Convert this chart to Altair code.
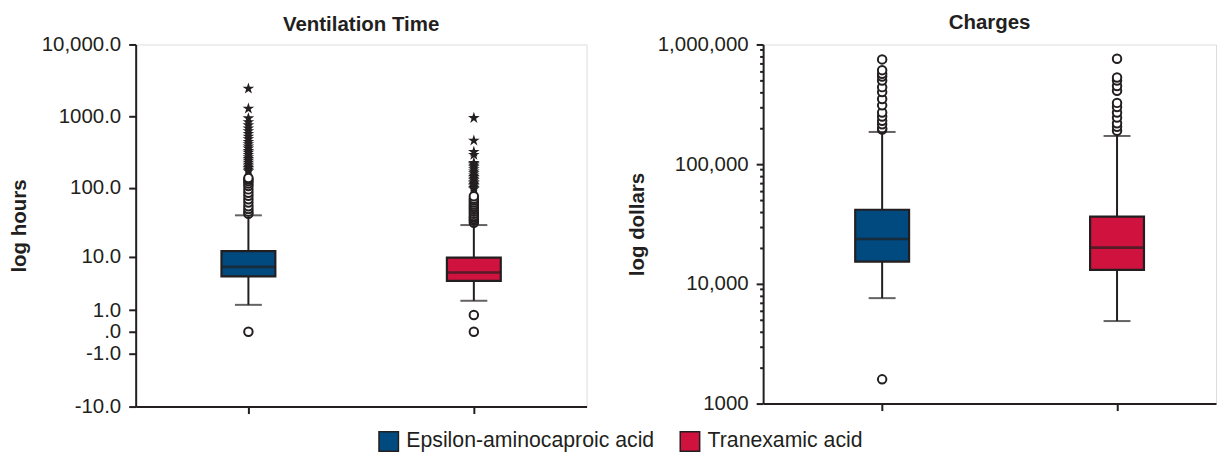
import altair as alt
import pandas as pd

groups = ["Epsilon-aminocaproic acid", "Tranexamic acid"]
colors = ["#004a80", "#cf123e"]
ink = "#231f20"

# ---- Ventilation time (hours) ----
vent_low = [1.37, 1.70]
vent_q1 = [4.9, 4.1]
vent_median = [7.0, 5.7]
vent_q3 = [12.3, 9.8]
vent_high = [40.8, 29.6]
vent_mild_eaca = [0.0, 43, 46, 50, 55, 62, 69, 77, 85, 95, 106, 115, 124, 131, 137]
vent_extreme_eaca = [171, 180, 190, 200, 212, 225, 240, 255, 270, 290, 310, 330, 355, 380,
                     410, 440, 480, 520, 570, 620, 680, 750, 830, 938, 1279, 2426]
vent_mild_txa = [0.0, 0.71, 32, 34, 36, 38, 40, 43, 46, 49, 52, 55, 58, 62, 66, 70, 76]
vent_extreme_txa = [96, 100, 105, 110, 115, 120, 128, 135, 142, 150, 160, 170, 183, 195,
                    205, 215, 224, 290, 319, 459, 947]
vent_ticks = [-10, -1, 0, 1, 10, 100, 1000, 10000]
vent_tick_labels = ["-10.0", "-1.0", ".0", "1.0", "10.0", "100.0", "1000.0", "10,000.0"]

# ---- Charges (dollars) ----
chg_low = [7600, 4890]
chg_q1 = [15350, 13090]
chg_median = [23700, 20070]
chg_q3 = [41600, 36400]
chg_high = [185800, 172000]
chg_mild_eaca = [1594, 195000, 200000, 215000, 230000, 250000, 270000, 310000, 350000,
                 400000, 440000, 500000, 540000, 570000, 610000, 750000]
chg_mild_txa = [190000, 205000, 220000, 245000, 270000, 300000, 325000, 410000, 450000,
                500000, 530000, 760000]
chg_major = [1000, 10000, 100000, 1000000]
chg_major_labels = ["1000", "10,000", "100,000", "1,000,000"]

STAR = ("M0,-1L0.2245,-0.309L0.9511,-0.309L0.3633,0.118L0.5878,0.809L0,0.382"
        "L-0.5878,0.809L-0.3633,0.118L-0.9511,-0.309L-0.2245,-0.309Z")

FONT = "Liberation Sans"


def label_expr(vals, labels):
    expr = "''"
    for v, l in zip(vals, labels):
        expr = f"datum.value == {v} ? '{l}' : ({expr})"
    return expr


def box_df(low, q1, med, q3, high):
    return pd.DataFrame({"group": groups, "low": low, "q1": q1, "median": med,
                         "q3": q3, "high": high})


def out_df(lists):
    rows = []
    for g, vals in zip(groups, lists):
        for v in vals:
            rows.append({"group": g, "value": v})
    return pd.DataFrame(rows)


color_enc = alt.Color("group:N", scale=alt.Scale(domain=groups, range=colors),
                      legend=alt.Legend(title=None, orient="none", direction="horizontal",
                                        legendX=243, legendY=387, symbolType="square",
                                        symbolSize=380, symbolStrokeColor=ink,
                                        symbolStrokeWidth=1.5, symbolOpacity=1,
                                        labelFontSize=21.3, labelFont=FONT, labelColor=ink,
                                        labelLimit=500, labelOffset=7, columnPadding=22,
                                        padding=0))


def panel(box, mild, extreme, yscale, yaxis, title, width, height, xpad, xalign, toff):
    xenc = alt.X("group:N", sort=groups,
                 scale=alt.Scale(type="point", padding=xpad, align=xalign),
                 axis=alt.Axis(labels=False, title=None, tickSize=7, tickWidth=2,
                               tickColor=ink, domainColor=ink, domainWidth=2))
    base = alt.Chart(box).encode(x=xenc)
    whisk = base.mark_rule(color=ink, strokeWidth=2).encode(
        y=alt.Y("low:Q", scale=yscale, axis=yaxis), y2="high:Q")
    cap_lo = base.mark_tick(color=ink, size=27, thickness=2).encode(y="low:Q")
    cap_hi = base.mark_tick(color=ink, size=27, thickness=2).encode(y="high:Q")
    boxes = base.mark_bar(size=54, stroke=ink, strokeWidth=2.2).encode(
        y="q1:Q", y2="q3:Q", color=color_enc)
    med = base.mark_tick(color=ink, size=54, thickness=2.6).encode(y="median:Q")
    layers = [whisk, boxes, med, cap_lo, cap_hi]
    if mild is not None:
        layers.append(alt.Chart(mild).mark_point(shape="circle", filled=False, size=72,
                                                 stroke=ink, strokeWidth=2, opacity=1,
                                                 fill="white", fillOpacity=1).encode(
            x=alt.X("group:N", sort=groups), y="value:Q"))
    if extreme is not None:
        layers.append(alt.Chart(extreme).mark_point(shape=STAR, filled=True, size=150,
                                                    color=ink, opacity=1).encode(
            x=alt.X("group:N", sort=groups), y="value:Q"))
    return alt.layer(*layers).properties(
        width=width, height=height,
        title=alt.TitleParams(title, fontSize=20.5, font=FONT, fontWeight="bold",
                              color=ink, anchor="middle", offset=toff))


vent_axis = alt.Axis(values=vent_ticks, labelExpr=label_expr(vent_ticks, vent_tick_labels),
                     title="log hours", titleFontSize=20.5, titleFont=FONT,
                     titleFontWeight="bold", titleColor=ink, titlePadding=12,
                     labelFontSize=20.5, labelFont=FONT, labelColor=ink, labelPadding=8,
                     tickSize=7, tickWidth=2, tickColor=ink, domainColor=ink,
                     domainWidth=2, grid=False)
vent_scale = alt.Scale(type="symlog", constant=1, domain=[-10, 10000], nice=False)

chg_all_ticks = []
for m in chg_major[:-1]:
    for k in range(1, 10):
        chg_all_ticks.append(m * k)
chg_all_ticks.append(chg_major[-1])
major_list = ",".join(str(v) for v in chg_major)
chg_axis = alt.Axis(values=chg_all_ticks, labelExpr=label_expr(chg_major, chg_major_labels),
                    title="log dollars", titleFontSize=20.5, titleFont=FONT,
                    titleFontWeight="bold", titleColor=ink, titlePadding=10,
                    labelFontSize=20.5, labelFont=FONT, labelColor=ink, labelPadding=8,
                    tickSize={"condition": {"test": f"indexof([{major_list}], datum.value) >= 0",
                                            "value": 7}, "value": 3.5},
                    tickWidth=2, tickColor=ink, domainColor=ink, domainWidth=2, grid=False)
chg_scale = alt.Scale(type="log", domain=[1000, 1000000], nice=False)

left = panel(box_df(vent_low, vent_q1, vent_median, vent_q3, vent_high),
             out_df([vent_mild_eaca, vent_mild_txa]),
             out_df([vent_extreme_eaca, vent_extreme_txa]),
             vent_scale, vent_axis, "Ventilation Time", 452, 363, 0.5, 0.5, -1)
right = panel(box_df(chg_low, chg_q1, chg_median, chg_q3, chg_high),
              out_df([chg_mild_eaca, chg_mild_txa]), None,
              chg_scale, chg_axis, "Charges", 454, 360, 0.464, 0.546, 1)

chart = alt.hconcat(left, right, spacing=39).properties(
    padding={"left": 0, "top": 4, "right": 0, "bottom": 0}
).configure_view(stroke=None).configure(background="white")

chart.save("out.html", embed_options={"renderer": "svg", "actions": False})
